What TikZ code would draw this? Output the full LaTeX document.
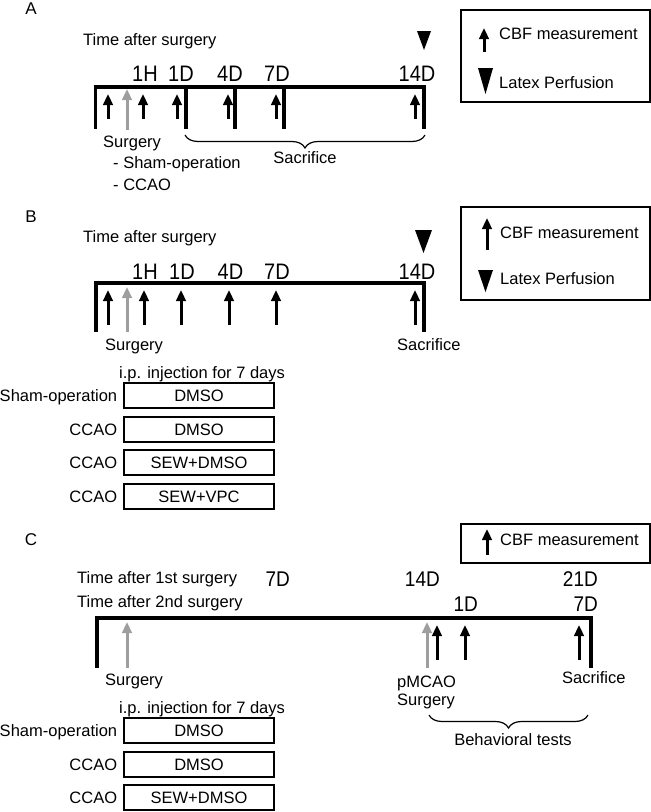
\documentclass[tikz,border=0pt]{standalone}
\usepackage{fontspec}
\usepackage{graphicx}
\setmainfont{Liberation Sans}
\usetikzlibrary{arrows.meta,decorations.pathreplacing}
\newcommand{\tallt}[1]{\scalebox{1}[1.12]{#1}}
\begin{document}
\begin{tikzpicture}[x=1pt,y=-1pt,
  txt/.style={font=\fontsize{16.5}{18}\selectfont, inner sep=0pt},
  tlab/.style={font=\fontsize{20}{22}\selectfont, inner sep=0pt},
  tlabc/.style={font=\fontsize{19}{21}\selectfont, inner sep=0pt},
  plab/.style={font=\fontsize{17}{19}\selectfont, inner sep=0pt},
  tline/.style={line width=4.2pt},
  vline/.style={line width=3.5pt},
  cbf/.style={line width=3pt, -{Triangle[width=9.5pt,length=11pt]}},
  surg/.style={cbf, draw=black!38},
  legbox/.style={draw, line width=1.5pt},
  grp/.style={draw, line width=1.3pt, minimum width=150pt, minimum height=25pt, inner sep=0pt, font=\fontsize{16.5}{18}\selectfont},
  brc/.style={decorate, decoration={brace, mirror, amplitude=13pt}, line width=1.2pt},
]
\useasboundingbox (0,0) rectangle (651,812);

% ================= Panel A =================
\node[plab] (lA) at (31,9) {A};
\node[txt, anchor=base west] (tA) at (83,45) {Time after surgery};
\fill (417,31) -- (431,31) -- (424,50) -- cycle;
\foreach \x/\t/\n in {145/1H/a1, 181/1D/a2, 230/4D/a3, 277/7D/a4, 417/14D/a5}
  \node[tlab, anchor=base] (\n) at (\x,81) {\tallt{\t}};
\draw[tline] (93.7,87) -- (425.8,87);
\foreach \x in {95.5,186,235,284,424}
  \draw[vline] (\x,87) -- (\x,129);
\foreach \x in {108,143,177,228,276,415}
  \draw[cbf] (\x,119) -- (\x,94);
\draw[surg] (127,130) -- (127,89);
\node[txt, anchor=base west] (sA) at (103,147) {Surgery};
\node[txt, anchor=base west] (shA) at (113,168) {- Sham-operation};
\node[txt, anchor=base west] (ccA) at (113,190) {- CCAO};
\draw[brc] (185,135) -- (425,135);
\node[txt, anchor=base] (sacA) at (305,163) {Sacrifice};

% legend A
\draw[legbox] (461,10) rectangle (649.8,102);
\draw[cbf] (484,52) -- (484,28);
\node[txt, anchor=base west] (lgA1) at (499,39.5) {CBF measurement};
\fill (478,68) -- (493,68) -- (485.5,94) -- cycle;
\node[txt, anchor=base west] (lgA2) at (499,88) {Latex Perfusion};

% ================= Panel B =================
\node[plab] (lB) at (31,216.5) {B};
\node[txt, anchor=base west] (tB) at (83,242) {Time after surgery};
\fill (415,230) -- (432,230) -- (423.5,253) -- cycle;
\foreach \x/\t/\n in {145/1H/b1, 182/1D/b2, 230.5/4D/b3, 277/7D/b4, 417/14D/b5}
  \node[tlab, anchor=base] (\n) at (\x,279.5) {\tallt{\t}};
\draw[tline] (94.3,283) -- (425.7,283);
\foreach \x in {96,424}
  \draw[vline] (\x,283) -- (\x,332);
\foreach \x in {108,144,181,229,276,415}
  \draw[cbf] (\x,325) -- (\x,290);
\draw[surg] (127,332) -- (127,287);
\node[txt, anchor=base west] (sB) at (105,350) {Surgery};
\node[txt, anchor=base west] (sacB) at (397,350) {Sacrifice};
\node[txt, anchor=base west] (ipB) at (119,378) {i.p. injection for 7 days};
\node[grp] (gB1) at (199,395.5) {DMSO};
\node[grp] (gB2) at (199,429.5) {DMSO};
\node[grp] (gB3) at (199,462.5) {SEW+DMSO};
\node[grp] (gB4) at (199,496.5) {SEW+VPC};
\node[txt, anchor=base east] (kB1) at ([xshift=-6pt]gB1.base west) {Sham-operation};
\node[txt, anchor=base east] (kB2) at ([xshift=-6pt]gB2.base west) {CCAO};
\node[txt, anchor=base east] (kB3) at ([xshift=-6pt]gB3.base west) {CCAO};
\node[txt, anchor=base east] (kB4) at ([xshift=-6pt]gB4.base west) {CCAO};

% legend B
\draw[legbox] (461,207) rectangle (649.8,300);
\draw[cbf] (487,250) -- (487,218);
\node[txt, anchor=base west] (lgB1) at (500,238) {CBF measurement};
\fill (478,270) -- (493,270) -- (485.5,292) -- cycle;
\node[txt, anchor=base west] (lgB2) at (500,284) {Latex Perfusion};

% ================= Panel C =================
\node[plab] (lC) at (31,540) {C};
\node[txt, anchor=base west] (tC1) at (77,583) {Time after 1st surgery};
\node[txt, anchor=base west] (tC2) at (77,607) {Time after 2nd surgery};
\node[tlabc, anchor=base east] (c1) at (290,586) {\tallt{7D}};
\node[tlabc, anchor=base east] (c2) at (440,586) {\tallt{14D}};
\node[tlabc, anchor=base east] (c3) at (598,586) {\tallt{21D}};
\node[tlabc, anchor=base east] (c4) at (478,611) {\tallt{1D}};
\node[tlabc, anchor=base east] (c5) at (598,611) {\tallt{7D}};
\draw[tline] (95.3,618) -- (592.7,618);
\foreach \x in {97,591}
  \draw[vline] (\x,618) -- (\x,668);
\draw[surg] (127,668) -- (127,622);
\draw[surg] (427,668) -- (427,622);
\foreach \x in {437,465,579}
  \draw[cbf] (\x,660) -- (\x,625);
\node[txt, anchor=base west] (sC) at (105,685) {Surgery};
\node[txt, anchor=base west] (pmC) at (397,687) {pMCAO};
\node[txt, anchor=base west] (pmC2) at (397,705) {Surgery};
\node[txt, anchor=base west] (sacC) at (562,683) {Sacrifice};
\draw[brc] (429,715) -- (588,715);
\node[txt, anchor=base] (behC) at (513,745) {Behavioral tests};
\node[txt, anchor=base west] (ipC) at (119,713) {i.p. injection for 7 days};
\node[grp] (gC1) at (199,730.5) {DMSO};
\node[grp] (gC2) at (199,764.5) {DMSO};
\node[grp] (gC3) at (199,797.5) {SEW+DMSO};
\node[txt, anchor=base east] (kC1) at ([xshift=-6pt]gC1.base west) {Sham-operation};
\node[txt, anchor=base east] (kC2) at ([xshift=-6pt]gC2.base west) {CCAO};
\node[txt, anchor=base east] (kC3) at ([xshift=-6pt]gC3.base west) {CCAO};

% legend C
\draw[legbox] (461,524) rectangle (649.8,563);
\draw[cbf] (487,555) -- (487,529);
\node[txt, anchor=base west] (lgC1) at (500,545) {CBF measurement};
\end{tikzpicture}
\end{document}
